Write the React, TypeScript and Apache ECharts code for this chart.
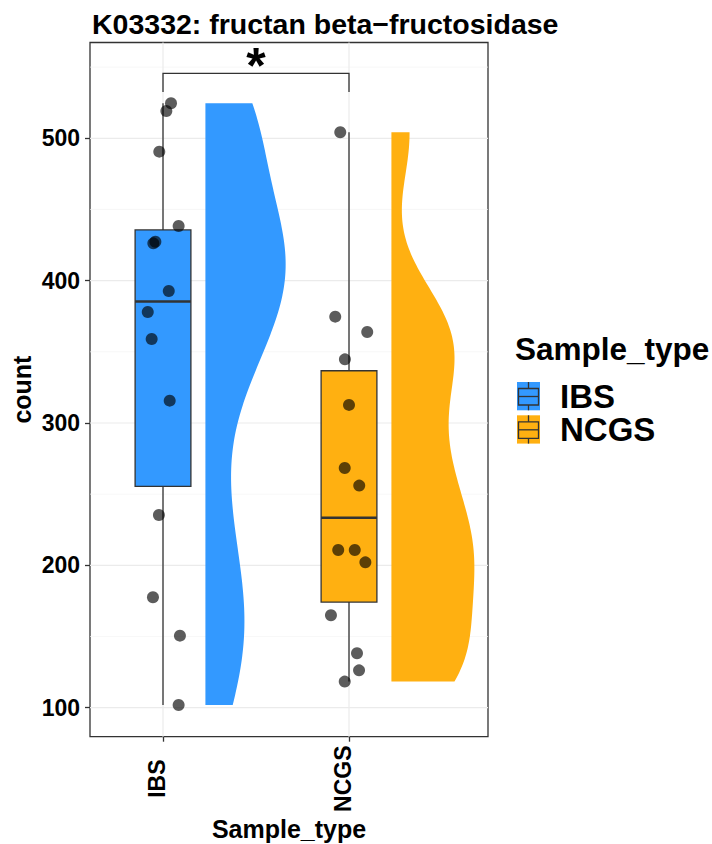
import React, { useEffect, useRef } from "react";
import * as echarts from "echarts";

// ---------- data ----------
const categories = ["IBS", "NCGS"];
const groupColors = ["#3399FF", "#FFB011"];
const ibsValues = [524.6, 519.2, 490.6, 438.4, 426.2, 427.3, 392.7, 378, 359, 315.7, 235.4, 177.6, 150.6, 101.9];
const ibsJitterX = [1.043, 1.018, 0.98, 1.084, 0.948, 0.959, 1.031, 0.918, 0.939, 1.036, 0.978, 0.946, 1.091, 1.084];
const ncgsValues = [504.2, 374.7, 363.9, 344.7, 312.7, 268.4, 256, 210.8, 210.8, 202.1, 164.9, 138.2, 126.2, 118.3];
const ncgsJitterX = [1.953, 1.926, 2.098, 1.978, 2.0, 1.977, 2.055, 1.942, 2.031, 2.088, 1.903, 2.043, 2.054, 1.977];
const yTickValues = [100, 200, 300, 400, 500];
const yMinorValues = [150, 250, 350, 450, 550];
const xTickValues = [1, 2];
const sigLabel = "*";
const sigBracket = [1, 2]; // compared groups
const sigY = 545.6;
const sigTipY = 532.5;
const densityAdjust = 0.63; // bandwidth multiplier of the half-violin density

const FONT = "'Liberation Sans', Arial, Helvetica, sans-serif";
const groups = [ibsValues, ncgsValues];
const jitters = [ibsJitterX, ncgsJitterX];

// ---------- statistics ----------
function quantile7(arr: number[], p: number) {
  const s = [...arr].sort((a, b) => a - b);
  const h = (s.length - 1) * p;
  const lo = Math.floor(h);
  const hi = Math.min(lo + 1, s.length - 1);
  return s[lo] + (h - lo) * (s[hi] - s[lo]);
}
function sd(arr: number[]) {
  const m = arr.reduce((a, b) => a + b, 0) / arr.length;
  return Math.sqrt(arr.reduce((a, b) => a + (b - m) * (b - m), 0) / (arr.length - 1));
}
function boxStats(arr: number[]) {
  const q1 = quantile7(arr, 0.25);
  const med = quantile7(arr, 0.5);
  const q3 = quantile7(arr, 0.75);
  const iqr = q3 - q1;
  const inside = arr.filter((v) => v >= q1 - 1.5 * iqr && v <= q3 + 1.5 * iqr);
  return [Math.min(...inside), q1, med, q3, Math.max(...inside)];
}
function density(arr: number[]) {
  const iqr = quantile7(arr, 0.75) - quantile7(arr, 0.25);
  const bw = densityAdjust * 0.9 * Math.min(sd(arr), iqr / 1.34) * Math.pow(arr.length, -0.2);
  const lo = Math.min(...arr);
  const hi = Math.max(...arr);
  const n = 240;
  const ys: number[] = [];
  const ds: number[] = [];
  for (let i = 0; i < n; i++) {
    const y = lo + ((hi - lo) * i) / (n - 1);
    let d = 0;
    for (const v of arr) d += Math.exp(-0.5 * ((y - v) / bw) ** 2);
    ys.push(y);
    ds.push(d / (arr.length * bw * Math.sqrt(2 * Math.PI)));
  }
  return { ys, ds };
}
const stats = groups.map(boxStats);
const dens = groups.map(density);
const globalMaxDens = Math.max(...dens.map((d) => Math.max(...d.ds)));

export default function App() {
  const ref = useRef<HTMLDivElement>(null);
  useEffect(() => {
    document.body.style.margin = "0";
    if (!ref.current) return;
    const chart = echarts.init(ref.current, null, { renderer: "svg" });
    const boxHalf = 0.15;
    const violinOffset = 0.228;
    const violinMax = 0.446;
    const lineColor = "#333333";

    const option: any = {
      animation: false,
      textStyle: { fontFamily: FONT },
      title: {
        text: "K03332: fructan beta\u2212fructosidase",
        left: 92,
        top: 9,
        padding: 0,
        textStyle: { fontSize: 28.5, fontWeight: "bold", color: "#000", fontFamily: FONT },
      },
      grid: {
        left: 90,
        top: 42.5,
        width: 398,
        height: 694.2,
        show: true,
        borderColor: lineColor,
        borderWidth: 1.3,
        backgroundColor: "transparent",
        containLabel: false,
        outerBoundsMode: "none",
      },
      xAxis: {
        type: "value",
        min: 0.6075,
        max: 2.7473,
        axisLine: { show: false },
        splitLine: { show: false },
        axisTick: { show: true, customValues: xTickValues, length: 5, lineStyle: { color: lineColor, width: 1.3 } },
        axisLabel: {
          customValues: xTickValues,
          formatter: (v: number) => categories[Math.round(v) - 1] ?? "",
          rotate: 90,
          align: "center",
          verticalAlign: "bottom",
          lineHeight: 12,
          margin: 42,
          fontSize: 23,
          fontWeight: "bold",
          color: "#000",
          fontFamily: FONT,
        },
        name: "Sample_type",
        nameLocation: "middle",
        nameGap: 80,
        nameMoveOverlap: false,
        nameTextStyle: { fontSize: 25, fontWeight: "bold", color: "#000", fontFamily: FONT, lineHeight: 25 },
      },
      yAxis: {
        type: "value",
        min: 79.6,
        max: 567.3,
        axisLine: { show: false },
        splitLine: { show: false },
        axisTick: { show: true, customValues: yTickValues, length: 5, lineStyle: { color: lineColor, width: 1.3 } },
        axisLabel: {
          customValues: yTickValues,
          margin: 10,
          fontSize: 23,
          fontWeight: "bold",
          color: "#000",
          fontFamily: FONT,
        },
        name: "count",
        nameLocation: "middle",
        nameRotate: 90,
        nameGap: 56,
        nameMoveOverlap: false,
        nameTextStyle: { fontSize: 25, fontWeight: "bold", color: "#000", fontFamily: FONT },
      },
      series: [
        // grid lines
        {
          type: "custom",
          silent: true,
          z: 1,
          data: [
            ...yTickValues.map((v) => [1.5, v, 1]),
            ...yMinorValues.map((v) => [1.5, v, 0]),
          ],
          renderItem: (params: any, api: any) => {
            const cs = params.coordSys;
            const p = api.coord([1.5, api.value(1)]);
            const major = api.value(2) === 1;
            return {
              type: "line",
              shape: { x1: cs.x, y1: p[1], x2: cs.x + cs.width, y2: p[1] },
              style: { stroke: major ? "#EBEBEB" : "#F3F3F3", lineWidth: major ? 1.2 : 0.7 },
            };
          },
        },
        {
          type: "custom",
          silent: true,
          z: 1,
          data: xTickValues.map((v) => [v, 300]),
          renderItem: (params: any, api: any) => {
            const cs = params.coordSys;
            const p = api.coord([api.value(0), 300]);
            return {
              type: "line",
              shape: { x1: p[0], y1: cs.y, x2: p[0], y2: cs.y + cs.height },
              style: { stroke: "#EBEBEB", lineWidth: 1.2 },
            };
          },
        },
        // half violins
        {
          type: "custom",
          silent: true,
          z: 2,
          data: categories.map((_, i) => [i + 1, groups[i][0], i]),
          renderItem: (params: any, api: any) => {
            const gi = api.value(2);
            const cx = api.value(0) + violinOffset;
            const d = dens[gi];
            const pts: number[][] = [];
            for (let k = 0; k < d.ys.length; k++) {
              pts.push(api.coord([cx + (d.ds[k] / globalMaxDens) * violinMax, d.ys[k]]));
            }
            pts.push(api.coord([cx, d.ys[d.ys.length - 1]]));
            pts.push(api.coord([cx, d.ys[0]]));
            return {
              type: "polygon",
              shape: { points: pts },
              style: { fill: groupColors[gi], stroke: "none" },
            };
          },
        },
        // boxplots
        {
          type: "custom",
          silent: true,
          z: 3,
          data: categories.map((_, i) => [i + 1, ...stats[i], i]),
          renderItem: (params: any, api: any) => {
            const x = api.value(0);
            const lo = api.value(1), q1 = api.value(2), med = api.value(3), q3 = api.value(4), hi = api.value(5);
            const gi = api.value(6);
            const c = api.coord([x, med]);
            const pLo = api.coord([x, lo]);
            const pHi = api.coord([x, hi]);
            const tl = api.coord([x - boxHalf, q3]);
            const br = api.coord([x + boxHalf, q1]);
            const ml = api.coord([x - boxHalf, med]);
            const mr = api.coord([x + boxHalf, med]);
            const lw = { stroke: lineColor, lineWidth: 1.3 };
            return {
              type: "group",
              children: [
                { type: "line", shape: { x1: c[0], y1: pLo[1], x2: c[0], y2: br[1] }, style: lw },
                { type: "line", shape: { x1: c[0], y1: pHi[1], x2: c[0], y2: tl[1] }, style: lw },
                {
                  type: "rect",
                  shape: { x: tl[0], y: tl[1], width: br[0] - tl[0], height: br[1] - tl[1] },
                  style: { fill: groupColors[gi], stroke: lineColor, lineWidth: 1.3 },
                },
                { type: "line", shape: { x1: ml[0], y1: ml[1], x2: mr[0], y2: mr[1] }, style: { stroke: lineColor, lineWidth: 2.6 } },
              ],
            };
          },
        },
        // jittered points
        {
          type: "scatter",
          z: 4,
          symbolSize: 12,
          itemStyle: { color: "rgba(0,0,0,0.8)" },
          data: groups.flatMap((g, gi) => g.map((v, k) => [jitters[gi][k], v])),
        },
        // significance bracket
        {
          type: "custom",
          silent: true,
          z: 5,
          data: [[sigBracket[0], sigBracket[1], sigY, sigTipY]],
          renderItem: (params: any, api: any) => {
            const a = api.coord([api.value(0), api.value(3)]);
            const b = api.coord([api.value(0), api.value(2)]);
            const c = api.coord([api.value(1), api.value(2)]);
            const d = api.coord([api.value(1), api.value(3)]);
            return {
              type: "group",
              children: [
                {
                  type: "polyline",
                  shape: { points: [a, b, c, d] },
                  style: { stroke: lineColor, lineWidth: 1.3, fill: "none" },
                },
                {
                  type: "text",
                  x: (b[0] + c[0]) / 2,
                  y: b[1] + 18,
                  style: {
                    text: sigLabel,
                    fontSize: 50,
                    fontWeight: "bold",
                    fontFamily: FONT,
                    fill: "#000",
                    textAlign: "center",
                    textVerticalAlign: "bottom",
                  },
                },
              ],
            };
          },
        },
      ],
      graphic: [
        {
          type: "text",
          left: 515,
          top: 333,
          style: { text: "Sample_type", fontSize: 31.5, fontWeight: "bold", fontFamily: FONT, fill: "#000" },
        },
        ...categories.flatMap((name, i) => {
          const kx = 517;
          const ky = 382 + i * 33.3;
          const lw = { stroke: lineColor, lineWidth: 1.3 };
          return [
            { type: "rect", shape: { x: kx, y: ky, width: 23, height: 28.3 }, style: { fill: groupColors[i] } },
            { type: "line", shape: { x1: kx + 11.5, y1: ky, x2: kx + 11.5, y2: ky + 6.5 }, style: lw },
            { type: "line", shape: { x1: kx + 11.5, y1: ky + 23, x2: kx + 11.5, y2: ky + 28.3 }, style: lw },
            { type: "rect", shape: { x: kx + 1.5, y: ky + 6.5, width: 20, height: 16.5 }, style: { fill: "none", ...lw } },
            { type: "line", shape: { x1: kx + 1.5, y1: ky + 14.5, x2: kx + 21.5, y2: ky + 14.5 }, style: lw },
            {
              type: "text",
              x: 560,
              y: ky + 14.5,
              style: {
                text: name,
                fontSize: 33,
                fontWeight: "bold",
                fontFamily: FONT,
                fill: "#000",
                textAlign: "left",
                textVerticalAlign: "middle",
              },
            },
          ];
        }),
      ],
    };
    chart.setOption(option);
    return () => chart.dispose();
  }, []);
  return <div ref={ref} style={{ width: 712, height: 844 }} />;
}
